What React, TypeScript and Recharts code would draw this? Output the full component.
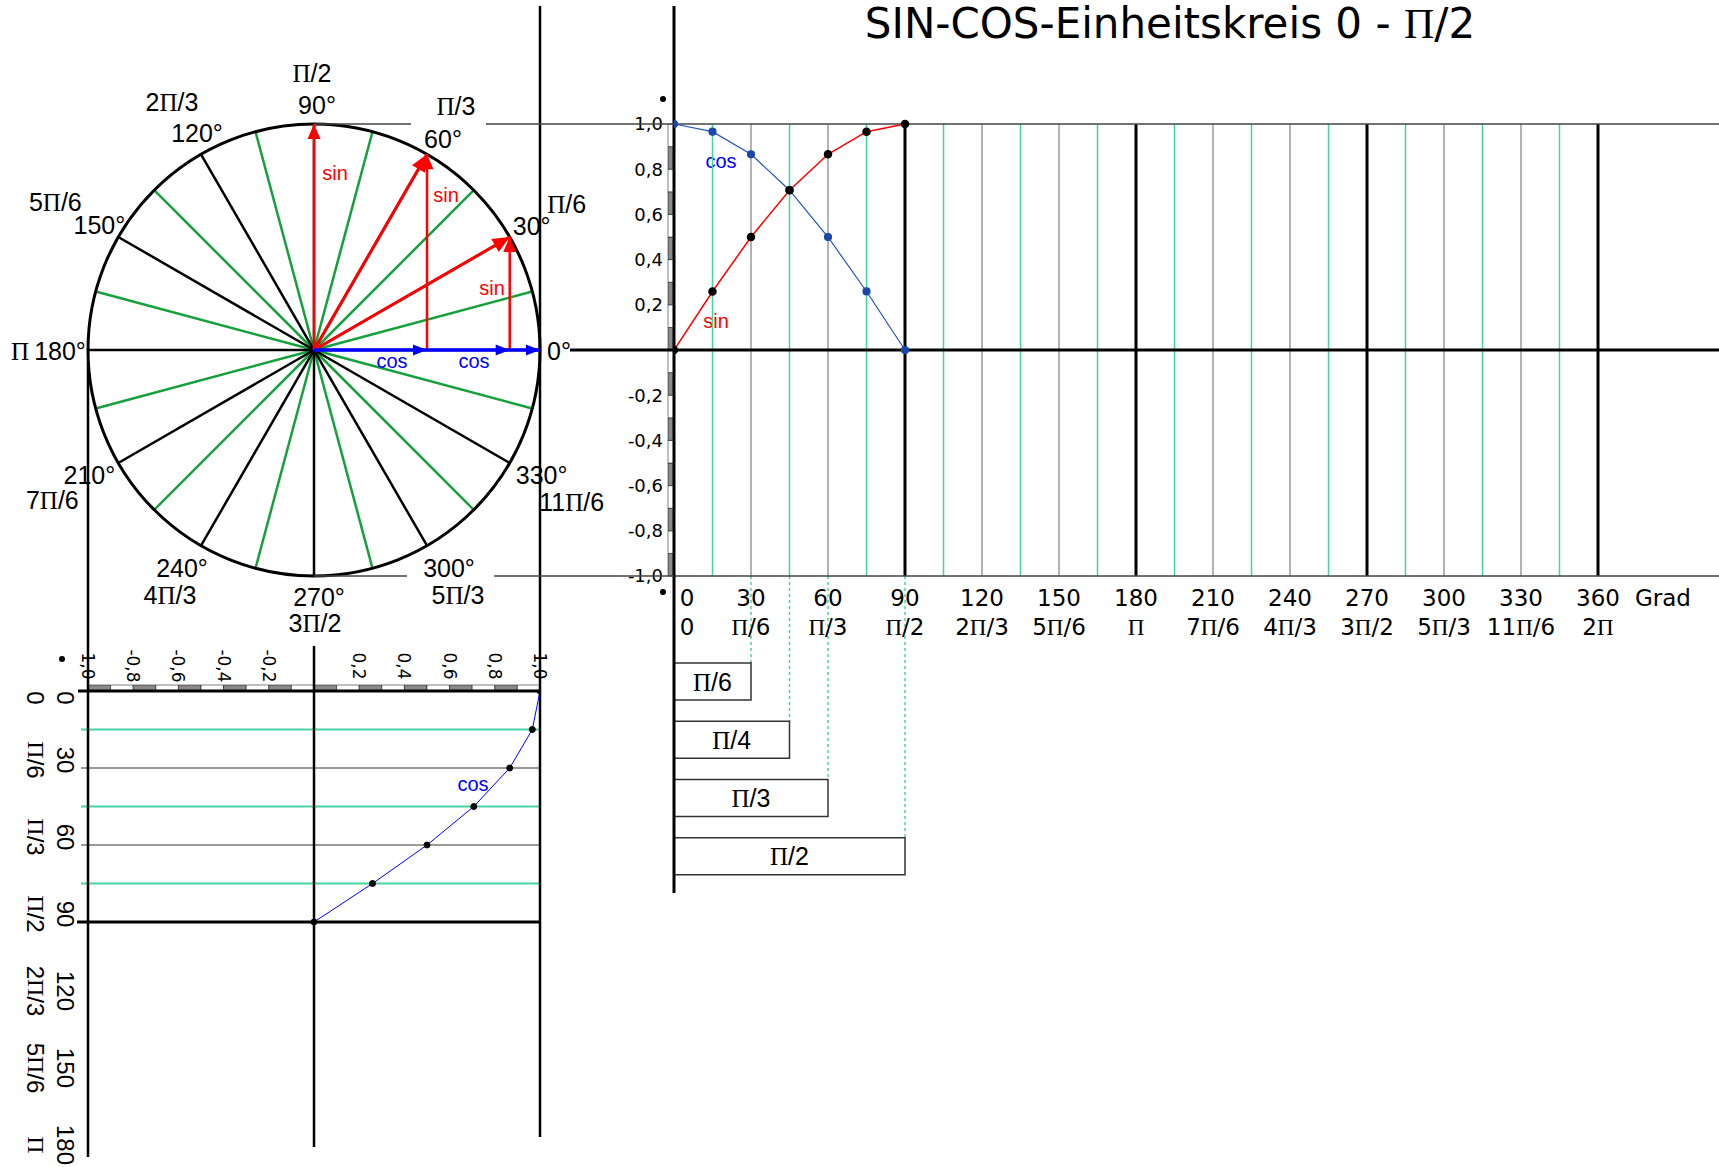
import React from 'react';
import {
  ComposedChart, Line, XAxis, YAxis, ReferenceLine, ReferenceArea, ReferenceDot,
  RadarChart, PolarGrid, PieChart, Pie, BarChart, Bar, LabelList,
} from 'recharts';

// ---------- data ----------
const angles = [0, 15, 30, 45, 60, 75, 90];
const sinValues = [0, 0.259, 0.5, 0.707, 0.866, 0.966, 1];
const cosValues = [1, 0.966, 0.866, 0.707, 0.5, 0.259, 0];

const gridDegrees = [15, 30, 45, 60, 75, 90, 105, 120, 135, 150, 165, 180, 195, 210, 225, 240, 255, 270, 285, 300, 315, 330, 345, 360];
const degreeTicks = [0, 30, 60, 90, 120, 150, 180, 210, 240, 270, 300, 330, 360];
const radianLabels = ['0', 'Π/6', 'Π/3', 'Π/2', '2Π/3', '5Π/6', 'Π', '7Π/6', '4Π/3', '3Π/2', '5Π/3', '11Π/6', '2Π'];
const valueTicks = [1, 0.8, 0.6, 0.4, 0.2, -0.2, -0.4, -0.6, -0.8, -1];
const scaleSteps = [-1, -0.9, -0.8, -0.7, -0.6, -0.5, -0.4, -0.3, -0.2, -0.1, 0, 0.1, 0.2, 0.3, 0.4, 0.5, 0.6, 0.7, 0.8, 0.9];

const greenSpokes = [15, 45, 75, 105, 135, 165, 195, 225, 255, 285, 315, 345];
const blackSpokes = [0, 30, 60, 90, 120, 150, 180, 210, 240, 270, 300, 330];
const circleDegreeLabels = ['0°', '30°', '60°', '90°', '120°', '150°', '180°', '210°', '240°', '270°', '300°', '330°'];
const circleRadianLabels = ['', 'Π/6', 'Π/3', 'Π/2', '2Π/3', '5Π/6', 'Π', '7Π/6', '4Π/3', '3Π/2', '5Π/3', '11Π/6'];

const radiusArrows = [
  [{ x: 0, y: 0 }, { x: 0.866, y: 0.5 }],
  [{ x: 0, y: 0 }, { x: 0.5, y: 0.866 }],
];
const sinArrows = [
  [{ x: 0, y: 0 }, { x: 0, y: 1 }],
  [{ x: 0.5, y: 0 }, { x: 0.5, y: 0.866 }],
  [{ x: 0.866, y: 0 }, { x: 0.866, y: 0.5 }],
];
const cosArrows = [
  [{ x: 0, y: 0 }, { x: 0.5, y: 0 }],
  [{ x: 0.5, y: 0 }, { x: 0.866, y: 0 }],
  [{ x: 0.866, y: 0 }, { x: 1, y: 0 }],
];

const boxes = [
  { name: 'Π/6', deg: 30 },
  { name: 'Π/4', deg: 45 },
  { name: 'Π/3', deg: 60 },
  { name: 'Π/2', deg: 90 },
];

const bottomDegTicks = [0, 30, 60, 90, 120, 150, 180];
const bottomRadLabels = ['0', 'Π/6', 'Π/3', 'Π/2', '2Π/3', '5Π/6', 'Π'];
const bottomGrid = [15, 30, 45, 60, 75];
const bottomValueTicks = [-1, -0.8, -0.6, -0.4, -0.2, 0.2, 0.4, 0.6, 0.8, 1];
const bottomValueLabels = ['1,0', '-0,8', '-0,6', '-0,4', '-0,2', '0,2', '0,4', '0,6', '0,8', '1,0'];

// ---------- layout ----------
const W = 1719;
const H = 1167;
const CX = 314;
const CY = 350;
const R = 226;
const MAIN_LEFT = 674;
const MAIN_TOP = CY - R;
const MAIN_BOTTOM = CY + R;
const PX_PER_DEG = 231 / 90;
const X_MAX = (W - MAIN_LEFT) / PX_PER_DEG;
const B_TOP = 691;
const B_BOTTOM = B_TOP + 180 * PX_PER_DEG;
const BOX_TOP = 652;
const BOX_BOTTOM = 885;

const degAt = (px: number) => (px - MAIN_LEFT) / PX_PER_DEG;
const valAt = (py: number) => (CY - py) / R;
const cAt = (px: number) => (px - CX) / R;
const bDegAt = (py: number) => (py - B_TOP) / PX_PER_DEG;

const SANS = '"Liberation Sans", Arial, sans-serif';
const WIDE = '"DejaVu Sans", sans-serif';
const SERIF = '"Liberation Serif", serif';

const SPOKE_GREEN = '#16a03c';
const GRID_GREEN = '#46d4a2';
const GRID_GREY = '#9a9a9a';
const RED = '#ff0000';
const BLUE = '#0000ff';

// per label: [degDx, degDy, radDx, radDy] relative to the point just outside the circle
const LABEL_OFFSETS = [
  [11, 1, 0, 0], [15, -7, 50, -29], [12, -8, 25, -41], [3, -11, -2, -43],
  [0, -14, -25, -45], [-12, -8, -56, -31], [-20, 1, -60, 1], [-22, 8, -59, 33],
  [-15, 15, -27, 42], [5, 13, 1, 39], [18, 15, 27, 42], [25, 8, 55, 35],
];

function PiText({ x, y, size, family, fill = '#000', anchor = 'middle', rotate, baseline = 'central', children }: any) {
  const parts = String(children).split('Π');
  const nodes: any[] = [];
  parts.forEach((p, i) => {
    if (i > 0) nodes.push(<tspan key={'p' + i} fontFamily={SERIF}>Π</tspan>);
    if (p) nodes.push(<tspan key={'t' + i}>{p}</tspan>);
  });
  return (
    <text
      x={x} y={y} fontSize={size} fontFamily={family} fill={fill} textAnchor={anchor}
      dominantBaseline={baseline}
      transform={rotate ? `rotate(${rotate} ${x} ${y})` : undefined}
    >
      {nodes}
    </text>
  );
}

function arrowDot(seg: any[], color: string, len: number, wid: number) {
  const dx = seg[1].x - seg[0].x;
  const dy = -(seg[1].y - seg[0].y);
  const l = Math.hypot(dx, dy);
  const ux = dx / l;
  const uy = dy / l;
  return (p: any) => {
    if (p.index !== seg.length - 1) return <g key={`d${p.index}`} />;
    const bx = p.cx - ux * len;
    const by = p.cy - uy * len;
    const pts = `${p.cx},${p.cy} ${bx - (uy * wid) / 2},${by + (ux * wid) / 2} ${bx + (uy * wid) / 2},${by - (ux * wid) / 2}`;
    return <polygon key={`d${p.index}`} points={pts} fill={color} />;
  };
}

const circleLabelData = circleDegreeLabels.map((d, i) => ({ deg: d, rad: circleRadianLabels[i], share: 1 }));
const sinData = angles.map((a, i) => ({ deg: a, v: sinValues[i] }));
const cosData = angles.map((a, i) => ({ deg: a, v: cosValues[i] }));
const bottomCosData = angles.map((a, i) => ({ c: cosValues[i], deg: a }));
const spokeData = blackSpokes.map((a) => ({ a }));

const renderCircleLabel = (p: any) => {
  const rad = Math.PI / 180;
  const bx = p.cx + (p.outerRadius + 8) * Math.cos(-p.midAngle * rad);
  const by = p.cy + (p.outerRadius + 8) * Math.sin(-p.midAngle * rad);
  const o = LABEL_OFFSETS[p.index];
  return (
    <g key={`cl${p.index}`}>
      <PiText x={bx + o[0]} y={by + o[1]} size={25} family={SANS}>{circleDegreeLabels[p.index]}</PiText>
      {circleRadianLabels[p.index] ? (
        <PiText x={bx + o[2]} y={by + o[3]} size={25} family={SANS}>{circleRadianLabels[p.index]}</PiText>
      ) : null}
    </g>
  );
};

const MainTick = (props: any) => {
  const { x, y, payload } = props;
  const i = degreeTicks.indexOf(payload.value);
  const dx = payload.value === 0 ? 13 : 0;
  return (
    <g>
      <PiText x={x + dx} y={y + 14} size={23} family={WIDE}>{String(payload.value)}</PiText>
      <PiText x={x + dx} y={y + 43} size={23} family={WIDE}>{radianLabels[i]}</PiText>
    </g>
  );
};

const BottomValueTick = (props: any) => {
  const { x, y, payload } = props;
  const i = bottomValueTicks.indexOf(payload.value);
  return <PiText x={x} y={y - 17} size={17} family={WIDE} rotate={90}>{bottomValueLabels[i]}</PiText>;
};

const BottomDegTick = (props: any) => {
  const { x, y, payload } = props;
  const i = bottomDegTicks.indexOf(payload.value);
  const cy = y + (payload.value === 0 ? 7 : -8);
  return (
    <g>
      <PiText x={x - 14} y={cy} size={24} family={SANS} rotate={90}>{String(payload.value)}</PiText>
      <PiText x={x - 44} y={cy} size={24} family={SANS} rotate={90}>{bottomRadLabels[i]}</PiText>
    </g>
  );
};

const BoxShape = (props: any) => {
  const { x, y, width, height } = props;
  return (
    <g>
      <line x1={x + width} y1={MAIN_BOTTOM} x2={x + width} y2={y} stroke={GRID_GREEN} strokeWidth={1.5} strokeDasharray="3 3" />
      <rect x={x} y={y} width={width} height={height} fill="#fff" stroke="#333" strokeWidth={1.5} />
    </g>
  );
};

const BoxLabel = (props: any) => {
  const { x, y, width, height, value } = props;
  return <PiText x={x + width / 2} y={y + height / 2} size={25} family={SANS}>{value}</PiText>;
};

const layer: React.CSSProperties = { position: 'absolute', left: 0, top: 0 };

export default function App() {
  return (
    <div style={{ position: 'absolute', left: 0, top: 0, width: W, height: H, background: '#fff', overflow: 'hidden' }}>
      {/* circle labels */}
      <div style={layer}>
        <PieChart width={W} height={H} margin={{ top: 0, right: 0, bottom: 0, left: 0 }}>
          <Pie
            data={circleLabelData} dataKey="share" cx={CX} cy={CY} innerRadius={0} outerRadius={R}
            startAngle={-15} endAngle={345} fill="transparent" stroke="none"
            label={renderCircleLabel} labelLine={false} isAnimationActive={false}
          />
        </PieChart>
      </div>

      {/* spokes and circle */}
      <div style={layer}>
        <RadarChart width={W} height={H} cx={CX} cy={CY} outerRadius={R} data={spokeData} margin={{ top: 0, right: 0, bottom: 0, left: 0 }}>
          <PolarGrid polarAngles={greenSpokes} polarRadius={[]} stroke={SPOKE_GREEN} strokeWidth={2.5} />
          <PolarGrid polarAngles={blackSpokes} polarRadius={[]} stroke="#000" strokeWidth={2.5} />
          <PolarGrid gridType="circle" polarAngles={[]} polarRadius={[R]} radialLines={false} stroke="#000" strokeWidth={3} />
        </RadarChart>
      </div>

      {/* angle boxes */}
      <div style={layer}>
        <BarChart layout="vertical" width={W} height={H} data={boxes}
          margin={{ top: BOX_TOP, right: 0, bottom: H - BOX_BOTTOM, left: MAIN_LEFT }}>
          <XAxis type="number" domain={[0, X_MAX]} allowDataOverflow hide />
          <YAxis type="category" dataKey="name" hide />
          <Bar dataKey="deg" barSize={37} shape={<BoxShape />} isAnimationActive={false}>
            <LabelList dataKey="name" content={<BoxLabel />} />
          </Bar>
        </BarChart>
      </div>

      {/* main sin / cos chart */}
      <div style={layer}>
        <ComposedChart width={W} height={H} margin={{ top: MAIN_TOP, right: 0, bottom: H - MAIN_BOTTOM - 70, left: MAIN_LEFT - 60 }}>
          <XAxis type="number" dataKey="deg" domain={[0, X_MAX]} allowDataOverflow ticks={degreeTicks} interval={0}
            height={70} axisLine={false} tickLine={false} tick={<MainTick />} />
          <YAxis type="number" domain={[-1, 1]} ticks={valueTicks} interval={0} width={60} axisLine={false} tickLine={false}
            tickMargin={5} tick={{ fontSize: 18, fill: '#000', fontFamily: WIDE }}
            tickFormatter={(v: number) => v.toFixed(1).replace('.', ',')} />
          {gridDegrees.map((d) => (
            <ReferenceLine key={`g${d}`} x={d}
              stroke={d % 90 === 0 ? '#000' : d % 30 === 0 ? GRID_GREY : GRID_GREEN}
              strokeWidth={d % 90 === 0 ? 3 : 1.5} />
          ))}
          <ReferenceLine y={1} stroke="#444" strokeWidth={1.5} />
          <ReferenceLine y={-1} stroke="#444" strokeWidth={1.5} />
          <ReferenceLine y={0} stroke="#000" strokeWidth={3} />
          {scaleSteps.map((s, i) => (
            <ReferenceArea key={`s${i}`} x1={degAt(MAIN_LEFT - 6)} x2={0} y1={s} y2={s + 0.1} ifOverflow="visible"
              fill={i % 2 === 0 ? '#8a8a8a' : '#fff'} fillOpacity={1} stroke="#000" strokeWidth={0.5} />
          ))}
          <ReferenceLine segment={[{ x: 0, y: valAt(6) }, { x: 0, y: valAt(893) }]} ifOverflow="visible" stroke="#000" strokeWidth={3} />
          <Line data={cosData} dataKey="v" type="linear" stroke="#2453b8" strokeWidth={1.2}
            dot={{ r: 3.5, fill: '#1a47a8', stroke: '#1a47a8' }} isAnimationActive={false} />
          <Line data={sinData} dataKey="v" type="linear" stroke={RED} strokeWidth={1.5}
            dot={{ r: 3.5, fill: '#000', stroke: '#000' }} isAnimationActive={false} />
          <ReferenceDot x={degAt(663)} y={valAt(99)} r={3} fill="#000" stroke="none" ifOverflow="visible" />
          <ReferenceDot x={degAt(663)} y={valAt(592)} r={3} fill="#000" stroke="none" ifOverflow="visible" />
          <text x={721} y={161} fontSize={20} fontFamily={SANS} fill={BLUE} textAnchor="middle" dominantBaseline="central">cos</text>
          <text x={716} y={321} fontSize={20} fontFamily={SANS} fill={RED} textAnchor="middle" dominantBaseline="central">sin</text>
          <text x={1663} y={598} fontSize={23} fontFamily={WIDE} fill="#000" textAnchor="middle" dominantBaseline="central">Grad</text>
          <PiText x={1170} y={38} size={42} family={WIDE} baseline="auto">SIN-COS-Einheitskreis 0 - Π/2</PiText>
        </ComposedChart>
      </div>

      {/* bottom: cos against angle */}
      <div style={layer}>
        <ComposedChart width={W} height={H} margin={{ top: B_TOP - 60, right: W - (CX + R), bottom: H - B_BOTTOM, left: CX - R - 70 }}>
          <XAxis type="number" dataKey="c" orientation="top" domain={[-1, 1]} allowDataOverflow ticks={bottomValueTicks}
            interval={0} height={60} axisLine={false} tickLine={false} tick={<BottomValueTick />} />
          <YAxis type="number" domain={[0, 180]} reversed allowDataOverflow ticks={bottomDegTicks} interval={0}
            width={70} axisLine={false} tickLine={false} tick={<BottomDegTick />} />
          {bottomGrid.map((d) => (
            <ReferenceLine key={`b${d}`} segment={[{ x: cAt(81), y: d }, { x: 1, y: d }]} ifOverflow="visible"
              stroke={d % 30 === 0 ? GRID_GREY : GRID_GREEN} strokeWidth={2} />
          ))}
          {scaleSteps.map((s, i) => (
            <ReferenceArea key={`bs${i}`} x1={s} x2={s + 0.1} y1={bDegAt(B_TOP - 6)} y2={0} ifOverflow="visible"
              fill={i % 2 === 0 ? '#8a8a8a' : '#fff'} fillOpacity={1} stroke="#000" strokeWidth={0.5} />
          ))}
          <ReferenceLine segment={[{ x: cAt(78), y: 0 }, { x: 1, y: 0 }]} ifOverflow="visible" stroke="#000" strokeWidth={3} />
          <ReferenceLine segment={[{ x: cAt(77), y: 90 }, { x: 1, y: 90 }]} ifOverflow="visible" stroke="#000" strokeWidth={3} />
          <ReferenceLine segment={[{ x: -1, y: bDegAt(362) }, { x: -1, y: bDegAt(1157) }]} ifOverflow="visible" stroke="#000" strokeWidth={2.5} />
          <ReferenceLine segment={[{ x: 0, y: bDegAt(646) }, { x: 0, y: bDegAt(1147) }]} ifOverflow="visible" stroke="#000" strokeWidth={2.5} />
          <ReferenceLine segment={[{ x: 1, y: bDegAt(6) }, { x: 1, y: bDegAt(1137) }]} ifOverflow="visible" stroke="#000" strokeWidth={2.5} />
          <Line data={bottomCosData} dataKey="deg" type="linear" stroke={BLUE} strokeWidth={1}
            dot={{ r: 3, fill: '#000', stroke: '#000' }} isAnimationActive={false} />
          <ReferenceDot x={cAt(62)} y={bDegAt(659)} r={3} fill="#000" stroke="none" ifOverflow="visible" />
          <text x={473} y={784} fontSize={20} fontFamily={SANS} fill={BLUE} textAnchor="middle" dominantBaseline="central">cos</text>
        </ComposedChart>
      </div>

      {/* arrows on the unit circle */}
      <div style={layer}>
        <ComposedChart width={W} height={H} margin={{ top: MAIN_TOP, right: W - (CX + R), bottom: H - MAIN_BOTTOM, left: CX - R }}>
          <XAxis type="number" dataKey="x" domain={[-1, 1]} allowDataOverflow hide />
          <YAxis type="number" domain={[-1, 1]} allowDataOverflow hide />
          <ReferenceLine segment={[{ x: 0, y: 1 }, { x: cAt(411), y: 1 }]} ifOverflow="visible" stroke="#444" strokeWidth={1.5} />
          <ReferenceLine segment={[{ x: cAt(486), y: 1 }, { x: cAt(MAIN_LEFT), y: 1 }]} ifOverflow="visible" stroke="#444" strokeWidth={1.5} />
          <ReferenceLine segment={[{ x: 0, y: -1 }, { x: cAt(407), y: -1 }]} ifOverflow="visible" stroke="#444" strokeWidth={1.5} />
          <ReferenceLine segment={[{ x: cAt(494), y: -1 }, { x: cAt(MAIN_LEFT), y: -1 }]} ifOverflow="visible" stroke="#444" strokeWidth={1.5} />
          <ReferenceLine segment={[{ x: cAt(570), y: 0 }, { x: cAt(MAIN_LEFT), y: 0 }]} ifOverflow="visible" stroke="#000" strokeWidth={3} />
          {radiusArrows.map((seg, i) => (
            <Line key={`ra${i}`} data={seg} dataKey="y" type="linear" stroke={RED} strokeWidth={3}
              dot={arrowDot(seg, RED, 17, 15)} isAnimationActive={false} />
          ))}
          {sinArrows.map((seg, i) => (
            <Line key={`sa${i}`} data={seg} dataKey="y" type="linear" stroke={RED} strokeWidth={2.5}
              dot={arrowDot(seg, RED, 15, 13)} isAnimationActive={false} />
          ))}
          {cosArrows.map((seg, i) => (
            <Line key={`ca${i}`} data={seg} dataKey="y" type="linear" stroke={BLUE} strokeWidth={3.5}
              dot={arrowDot(seg, BLUE, 14, 11)} isAnimationActive={false} />
          ))}
          <text x={335} y={173} fontSize={20} fontFamily={SANS} fill={RED} textAnchor="middle" dominantBaseline="central">sin</text>
          <text x={446} y={195} fontSize={20} fontFamily={SANS} fill={RED} textAnchor="middle" dominantBaseline="central">sin</text>
          <text x={492} y={288} fontSize={20} fontFamily={SANS} fill={RED} textAnchor="middle" dominantBaseline="central">sin</text>
          <text x={392} y={361} fontSize={20} fontFamily={SANS} fill={BLUE} textAnchor="middle" dominantBaseline="central">cos</text>
          <text x={474} y={361} fontSize={20} fontFamily={SANS} fill={BLUE} textAnchor="middle" dominantBaseline="central">cos</text>
        </ComposedChart>
      </div>
    </div>
  );
}
